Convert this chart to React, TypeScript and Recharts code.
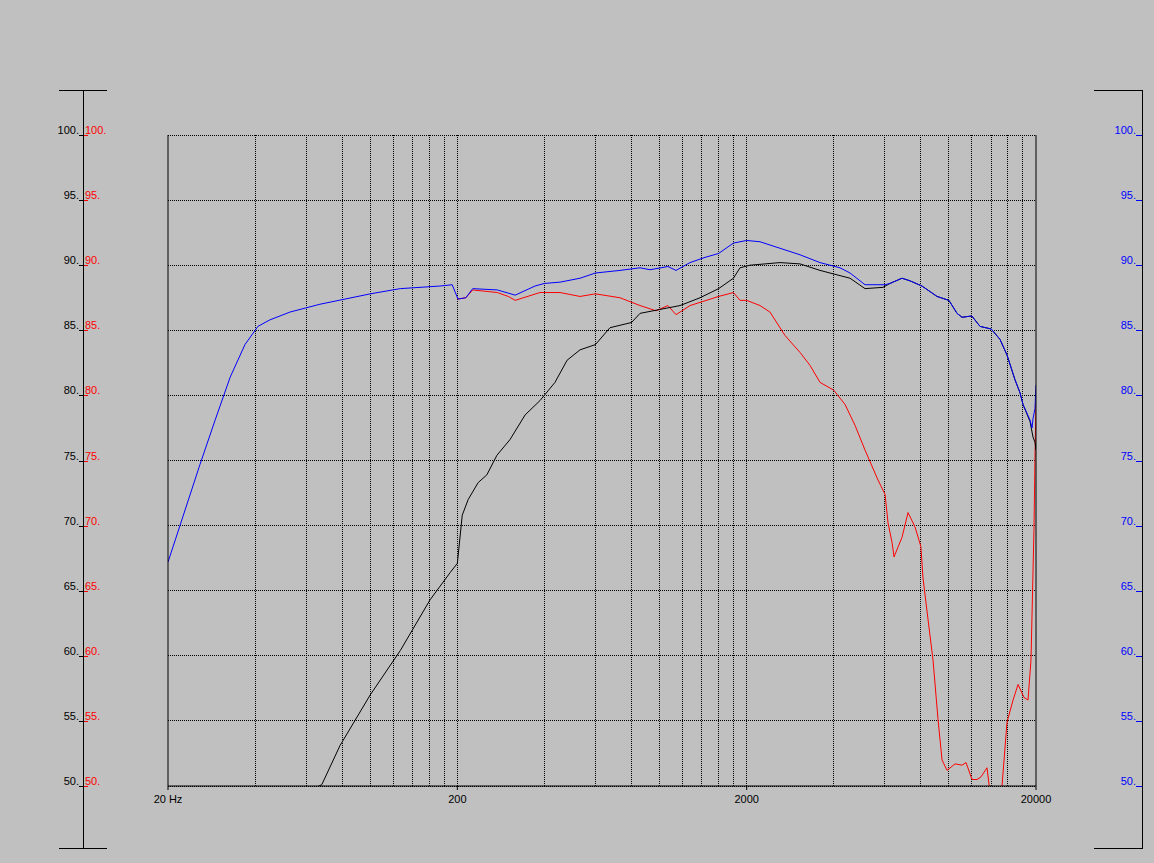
import { LineChart, Line, XAxis, YAxis, CartesianGrid, ReferenceLine } from "recharts";

const FONT = '"Liberation Sans", Arial, sans-serif';

// axis ticks
const freqTicks = [20, 200, 2000, 20000];
const levelTicks = [50, 55, 60, 65, 70, 75, 80, 85, 90, 95, 100];
const gridFreqs = [
  40, 60, 80, 100, 120, 140, 160, 180, 200,
  400, 600, 800, 1000, 1200, 1400, 1600, 1800, 2000,
  4000, 6000, 8000, 10000, 12000, 14000, 16000, 18000,
];

// blue: system response
const blueFreq = [
  20, 22, 25.8, 29.1, 32.8, 36.9, 40.9, 45, 52.8, 67, 100, 127, 174, 192, 201, 214, 226, 275, 317, 371,
  400, 453, 531, 600, 730, 856, 927, 1069, 1140, 1274, 1436, 1600, 1800, 2000, 2224, 2608, 3058, 3586,
  4204, 4553, 5130, 6016, 6260, 6886, 7338, 8072, 9098, 10000, 10670, 11100, 12000, 12810, 14000,
  15020, 15880, 16920, 17610, 18040, 19070, 19380, 19530, 19840, 20000,
];
const blueDb = [
  67.2, 70.0, 74.7, 78.1, 81.4, 83.9, 85.3, 85.8, 86.4, 87.0, 87.8, 88.2, 88.4, 88.5, 87.4, 87.5, 88.2, 88.1, 87.7, 88.4,
  88.6, 88.7, 89.0, 89.4, 89.6, 89.8, 89.65, 89.9, 89.6, 90.2, 90.6, 90.9, 91.7, 91.9, 91.8, 91.3, 90.8, 90.2,
  89.8, 89.4, 88.5, 88.5, 88.6, 89.0, 88.8, 88.4, 87.6, 87.3, 86.3, 86.0, 86.1, 85.3, 85.1,
  84.3, 83.1, 81.2, 80.2, 79.3, 78.1, 77.5, 78.2, 79.0, 80.8,
];

// red: woofer
const redFreq = [
  200, 214, 226, 275, 300, 317, 386, 453, 531, 600, 730, 856, 972, 1069, 1140, 1274, 1600, 1800, 1897,
  2000, 2224, 2408, 2714, 3058, 3312, 3586, 4000, 4376, 4738, 5130, 5688, 6016, 6161, 6360, 6462, 6886,
  7224, 7634, 8000, 8136, 8468, 8811, 9172, 9468, 9852, 10500, 11100, 11460, 12020, 12510, 12910, 13540,
  14000, 14780, 15260, 15880, 16660, 17340, 18180, 18770, 19220, 19680, 19840, 20000,
];
const redDb = [
  87.4, 87.5, 88.1, 87.9, 87.6, 87.3, 87.9, 87.9, 87.6, 87.8, 87.5, 86.9, 86.5, 86.9, 86.2, 86.9, 87.6, 87.9, 87.3,
  87.3, 86.9, 86.4, 84.6, 83.3, 82.3, 81.0, 80.4, 79.3, 77.7, 75.8, 73.5, 72.4, 70.2, 68.7, 67.6, 69.1,
  71.0, 69.9, 68.4, 66.0, 62.8, 59.7, 55.1, 52.0, 51.2, 51.7, 51.6, 51.8, 50.5, 50.5, 50.7, 51.4,
  48.8, 48.8, 50.0, 54.9, 56.6, 57.8, 56.8, 56.6, 59.7, 69.7, 75.2, 79.4,
];

// black: tweeter
const blackFreq = [
  65, 68, 78.6, 100, 127, 161, 189, 200, 208, 218, 236, 253, 274, 304, 343, 386, 435, 479, 531, 600,
  674, 800, 856, 1003, 1177, 1380, 1600, 1800, 1897, 2053, 2608, 3058, 3586, 4204, 4553, 5130, 5920,
  6260, 6886, 7338, 8072, 9098, 10000, 10670, 11100, 12000, 12810, 14000, 15020, 15880, 16920, 17610,
  18040, 19070, 19530, 19840, 20000,
];
const blackDb = [
  49.9, 50.1, 53.1, 57.0, 60.4, 64.3, 66.4, 67.1, 70.8, 72.0, 73.3, 73.9, 75.4, 76.6, 78.5, 79.6, 81.0, 82.7, 83.5, 83.9,
  85.2, 85.6, 86.3, 86.6, 86.9, 87.5, 88.2, 89.0, 89.8, 90.0, 90.2, 90.1, 89.6, 89.2, 89.0, 88.2, 88.3,
  88.6, 89.0, 88.8, 88.4, 87.6, 87.3, 86.3, 86.0, 86.1, 85.3, 85.1, 84.3, 83.1, 81.2, 80.2,
  79.3, 78.0, 76.8, 76.4, 75.8,
];

const toPoints = (freq: number[], db: number[]) => freq.map((f, i) => ({ f, db: db[i] }));

const blueData = toPoints(blueFreq, blueDb);
const redData = toPoints(redFreq, redDb);
const blackData = toPoints(blackFreq, blackDb);

function LeftTick({ y, payload }: any) {
  const label = `${payload.value}.`;
  return (
    <g fontSize={11} fontFamily={FONT} shapeRendering="crispEdges">
      <text x={79} y={y - 1} textAnchor="end" fill="#000">{label}</text>
      <line x1={79} x2={83} y1={y + 0.5} y2={y + 0.5} stroke="#000" />
      <line x1={83} x2={88} y1={y + 0.5} y2={y + 0.5} stroke="#ff0000" />
      <text x={85} y={y - 1} fill="#ff0000">{label}</text>
    </g>
  );
}

function RightTick({ y, payload }: any) {
  return (
    <g fontSize={11} fontFamily={FONT} shapeRendering="crispEdges">
      <text x={1136} y={y - 1} textAnchor="end" fill="#0000ff">{`${payload.value}.`}</text>
      <line x1={1136} x2={1142} y1={y + 0.5} y2={y + 0.5} stroke="#0000ff" />
    </g>
  );
}

function FreqTick({ x, payload }: any) {
  const label = payload.value === 20 ? "20 Hz" : String(payload.value);
  return (
    <text x={x} y={803} textAnchor="middle" fill="#000" fontSize={11} fontFamily={FONT}>
      {label}
    </text>
  );
}

export default function App() {
  return (
    <div
      style={{
        position: "absolute",
        left: 0,
        top: 0,
        width: 1154,
        height: 863,
        background: "#c0c0c0",
        fontFamily: FONT,
      }}
    >
      <LineChart width={1154} height={863} margin={{ top: 135, right: 58, bottom: 47, left: 108 }}>
        <CartesianGrid vertical={false} stroke="#000" strokeDasharray="1 1" shapeRendering="crispEdges" />
        {gridFreqs.map((f) => (
          <ReferenceLine
            key={f}
            x={f}
            stroke="#000"
            strokeDasharray="1 1"
            shapeRendering="crispEdges"
            ifOverflow="hidden"
          />
        ))}
        <XAxis
          dataKey="f"
          type="number"
          scale="log"
          domain={[20, 20000]}
          ticks={freqTicks}
          allowDataOverflow
          height={30}
          axisLine={{ stroke: "#000" }}
          tickLine={{ stroke: "#000" }}
          tickSize={4}
          tick={<FreqTick />}
          interval={0}
        />
        <YAxis
          type="number"
          domain={[50, 100]}
          ticks={levelTicks}
          allowDataOverflow
          width={60}
          axisLine={{ stroke: "#000" }}
          tickLine={false}
          tick={<LeftTick />}
          interval={0}
        />
        <YAxis
          yAxisId="right"
          orientation="right"
          type="number"
          domain={[50, 100]}
          ticks={levelTicks}
          allowDataOverflow
          width={60}
          axisLine={{ stroke: "#000" }}
          tickLine={false}
          tick={<RightTick />}
          interval={0}
        />
        <Line data={redData} dataKey="db" type="linear" stroke="#ff0000" strokeWidth={1} dot={false} isAnimationActive={false} />
        <Line data={blackData} dataKey="db" type="linear" stroke="#000000" strokeWidth={1} dot={false} isAnimationActive={false} />
        <Line data={blueData} dataKey="db" type="linear" stroke="#0000ff" strokeWidth={1} dot={false} isAnimationActive={false} />
      </LineChart>
      <svg
        width={1154}
        height={863}
        style={{ position: "absolute", left: 0, top: 0, pointerEvents: "none" }}
        shapeRendering="crispEdges"
      >
        <line x1={83.5} x2={83.5} y1={90} y2={849} stroke="#000" />
        <line x1={59} x2={107} y1={90.5} y2={90.5} stroke="#000" />
        <line x1={59} x2={107} y1={848.5} y2={848.5} stroke="#000" />
        <line x1={1142.5} x2={1142.5} y1={90} y2={849} stroke="#000" />
        <line x1={1094} x2={1143} y1={90.5} y2={90.5} stroke="#000" />
        <line x1={1094} x2={1143} y1={848.5} y2={848.5} stroke="#000" />
      </svg>
    </div>
  );
}
